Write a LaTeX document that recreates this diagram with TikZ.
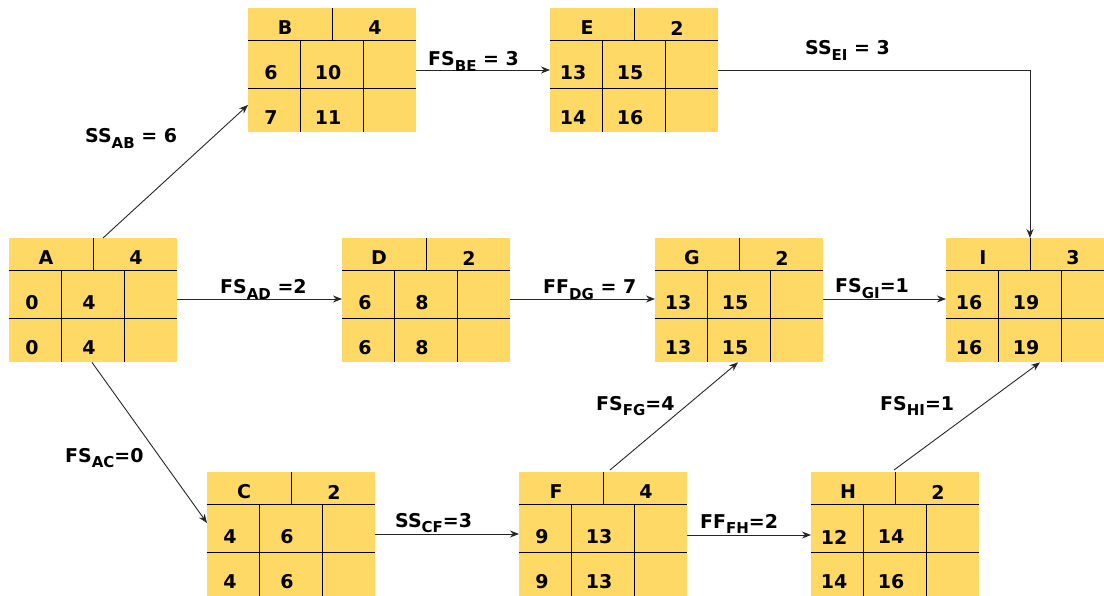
\documentclass[tikz,border=0pt]{standalone}
\usepackage{fontspec}
\setmainfont{DejaVu Sans}
\usetikzlibrary{calc,arrows.meta}
\definecolor{boxfill}{RGB}{255,217,102}
\tikzset{
 abox/.style={fill=boxfill, draw=none, minimum height=124pt, inner sep=0pt, anchor=north west},
 grid/.style={line width=0.9pt, black},
 txt/.style={font=\bfseries\fontsize{19}{22}\selectfont, inner sep=0pt},
 conn/.style={line width=0.9pt, black!85, -{Stealth[length=9pt,width=7pt]}},
 lab/.style={font=\bfseries\fontsize{19}{22}\selectfont, inner sep=0pt, anchor=base west},
}
\newcommand\sub[1]{\raisebox{-5.5pt}{\fontsize{15}{16}\selectfont #1}}
\def\bw{168}
\newcommand\actbox[9]{%
 \node[abox, minimum width=\bw pt] (#1) at (#2,#3) {};
 \draw[grid] ($(#1.north west)+(0,32)$) -- ($(#1.north east)+(0,32)$);
 \draw[grid] ($(#1.north west)+(84,0)$) -- ($(#1.north west)+(84,32)$);
 \draw[grid] ($(#1.north west)+(0,80)$) -- ($(#1.north east)+(0,80)$);
 \draw[grid] ($(#1.north west)+(52,32)$) -- ($(#1.south west)+(52,0)$);
 \draw[grid] ($(#1.north west)+(115,32)$) -- ($(#1.south west)+(115,0)$);
 \node[txt] (#1-n) at ($(#1.north west)+(37,20)$) {#4};
 \node[txt] (#1-d) at ($(#1.north west)+(127,20)$) {#5};
 \node[txt] (#1-es) at ($(#1.north west)+(23,65)$) {#6};
 \node[txt] (#1-ef) at ($(#1.north west)+(80,65)$) {#7};
 \node[txt] (#1-ls) at ($(#1.north west)+(23,110)$) {#8};
 \node[txt] (#1-lf) at ($(#1.north west)+(80,110)$) {#9};
}
\begin{document}
\begin{tikzpicture}[x=1pt,y=-1pt]
\useasboundingbox (0,0) rectangle (1104,596);
\actbox{A}{9}{238}{A}{4}{0}{4}{0}{4}
\actbox{B}{248}{8}{B}{4}{6}{10}{7}{11}
\actbox{E}{550}{8}{E}{2}{13}{15}{14}{16}
\actbox{D}{342}{238}{D}{2}{6}{8}{6}{8}
\actbox{G}{655}{238}{G}{2}{13}{15}{13}{15}
\actbox{C}{207}{472}{C}{2}{4}{6}{4}{6}
\actbox{F}{519}{472}{F}{4}{9}{13}{9}{13}
\actbox{H}{811}{472}{H}{2}{12}{14}{14}{16}
\def\bw{158}
\actbox{I}{946}{238}{I}{3}{16}{19}{16}{19}
% connectors
\draw[conn] ($(A.north west)+(94,0)$) -- ($(B.north west)+(0,97)$);
\draw[conn] ($(A.north east)+(0,61)$) -- ($(D.north west)+(0,61)$);
\draw[conn] ($(D.north east)+(0,61)$) -- ($(G.north west)+(0,61)$);
\draw[conn] ($(G.north east)+(0,61)$) -- ($(I.north west)+(0,61)$);
\draw[conn] ($(B.north east)+(0,62)$) -- ($(E.north west)+(0,62)$);
\draw[conn] ($(E.north east)+(0,62)$) -| ($(I.north west)+(84,0)$);
\draw[conn] ($(A.south west)+(83,0)$) -- ($(C.north west)+(0,51)$);
\draw[conn] ($(C.north east)+(0,62)$) -- ($(F.north west)+(0,62)$);
\draw[conn] ($(F.north west)+(91,-2)$) -- ($(G.south west)+(83,0)$);
\draw[conn] ($(F.north east)+(0,63)$) -- ($(H.north west)+(0,63)$);
\draw[conn] ($(H.north west)+(83,-2)$) -- ($(I.south west)+(94,0)$);
% labels
\node[lab] (lAB) at (85,143) {SS\sub{AB} = 6};
\node[lab] (lBE) at (428,66) {FS\sub{BE} = 3};
\node[lab] (lEI) at (805,55) {SS\sub{EI} = 3};
\node[lab] (lAD) at (220,294) {FS\sub{AD} =2};
\node[lab] (lDG) at (543,294) {FF\sub{DG} = 7};
\node[lab] (lGI) at (835,293) {FS\sub{GI}=1};
\node[lab] (lAC) at (65,462) {FS\sub{AC}=0};
\node[lab] (lCF) at (395,527) {SS\sub{CF}=3};
\node[lab] (lFG) at (596,410) {FS\sub{FG}=4};
\node[lab] (lFH) at (700,528) {FF\sub{FH}=2};
\node[lab] (lHI) at (880,410) {FS\sub{HI}=1};
\end{tikzpicture}
\end{document}
